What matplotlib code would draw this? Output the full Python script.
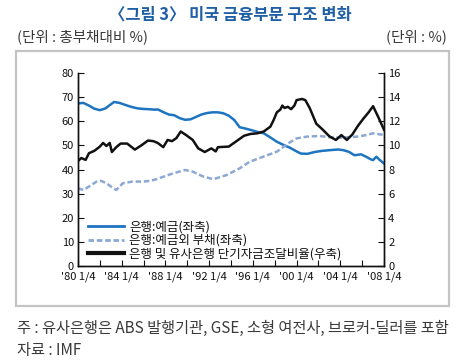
import matplotlib
matplotlib.use("Agg")
import matplotlib.pyplot as plt
from matplotlib.patches import Rectangle
from matplotlib.lines import Line2D

plt.rcParams['font.family'] = ['Noto Sans CJK KR', 'DejaVu Sans']

# --- data ---
dep_x = [1980.0, 1980.5, 1981.0, 1981.5, 1982.0, 1982.5, 1983.0, 1983.3, 1983.8, 1984.5,
         1985.0, 1985.5, 1986.0, 1986.5, 1987.0, 1987.3, 1987.8, 1988.3, 1988.8, 1989.3,
         1989.8, 1990.3, 1990.8, 1991.3, 1991.8, 1992.3, 1992.8, 1993.3, 1993.8, 1994.3,
         1994.8, 1995.2, 1995.8, 1996.5, 1997.0, 1997.6, 1998.2, 1998.8, 1999.4, 2000.0,
         2000.4, 2001.0, 2001.6, 2002.3, 2003.0, 2003.8, 2004.3, 2004.8, 2005.3, 2005.9,
         2006.4, 2006.8, 2007.0, 2007.3, 2007.6, 2008.0]
dep_y = [67.4, 67.6, 66.5, 65.2, 64.6, 65.3, 67.0, 68.0, 67.6, 66.5,
         65.8, 65.3, 65.1, 65.0, 64.8, 64.9, 63.8, 62.8, 62.5, 61.3,
         60.6, 60.8, 61.8, 62.8, 63.4, 63.7, 63.7, 63.3, 62.3, 60.5,
         57.5, 57.1, 56.4, 55.5, 55.0, 53.3, 51.5, 50.2, 49.0, 47.5,
         46.6, 46.5, 47.2, 47.7, 48.0, 48.3, 48.0, 47.3, 45.9, 46.3,
         45.2, 44.2, 43.9, 45.3, 44.0, 42.5]

nondep_x = [1980.0, 1980.5, 1981.2, 1981.7, 1982.1, 1982.6, 1983.0, 1983.5, 1984.1, 1985.0,
            1986.0, 1986.6, 1987.2, 1987.8, 1988.7, 1989.8, 1990.5, 1991.5, 1992.4, 1993.6,
            1994.8, 1995.7, 1996.95, 1998.2, 1999.4, 2000.0, 2000.9, 2002.1, 2003.0, 2004.0,
            2005.5, 2006.3, 2007.0, 2008.0]
nondep_y = [32.2, 31.5, 33.5, 35.0, 35.3, 34.3, 33.0, 31.5, 34.3, 35.0,
            35.0, 35.3, 36.0, 37.0, 38.4, 39.8, 39.1, 37.0, 36.0, 37.7,
            40.5, 43.2, 45.3, 47.4, 51.3, 52.9, 53.6, 53.9, 53.4, 53.2,
            53.6, 54.2, 55.0, 54.3]

st_x = [1980.0, 1980.3, 1980.7, 1981.0, 1981.5, 1982.0, 1982.3, 1982.6, 1982.9, 1983.1,
        1983.5, 1983.9, 1984.5, 1985.2, 1985.8, 1986.4, 1986.9, 1987.3, 1987.8, 1988.2,
        1988.6, 1989.0, 1989.4, 1989.9, 1990.5, 1991.0, 1991.6, 1992.2, 1992.6, 1992.8,
        1993.8, 1994.5, 1995.2, 1995.8, 1996.4, 1997.0, 1997.6, 1997.9, 1998.2, 1998.5,
        1998.7, 1998.9, 1999.2, 1999.5, 1999.8, 2000.0, 2000.5, 2000.8, 2001.2, 2001.8,
        2002.4, 2003.0, 2003.6, 2004.1, 2004.6, 2005.1, 2005.6, 2006.1, 2006.6, 2007.0,
        2007.5, 2008.0]
st_y = [8.7, 8.95, 8.8, 9.35, 9.55, 9.9, 10.2, 9.95, 10.2, 9.45,
        9.85, 10.15, 10.15, 9.65, 10.0, 10.4, 10.35, 10.2, 9.85, 10.45,
        10.35, 10.6, 11.15, 10.85, 10.45, 9.75, 9.45, 9.75, 9.5, 9.85,
        9.9, 10.35, 10.8, 10.95, 11.0, 11.15, 11.55, 12.1, 12.75, 12.95,
        13.3, 13.1, 13.2, 13.0, 13.3, 13.75, 13.85, 13.75, 13.1, 11.8,
        11.3, 10.75, 10.45, 10.85, 10.45, 10.9, 11.6, 12.2, 12.75, 13.25,
        12.3, 11.3]

labels = ['은행:예금(좌축)', '은행:예금외 부채(좌축)', '은행 및 유사은행 단기자금조달비율(우축)']
xtick_pos = list(range(1980, 2009, 2))
xtick_lbl = ["'%02d 1/4" % (y % 100) if (y - 1980) % 4 == 0 else '' for y in xtick_pos]
left_ticks = list(range(0, 81, 10))
right_ticks = list(range(0, 17, 2))

title = '〈그림 3〉 미국 금융부문 구조 변화'
unit_left = '(단위 : 총부채대비 %)'
unit_right = '(단위 : %)'
note = '주 : 유사은행은 ABS 발행기관, GSE, 소형 여전사, 브로커-딜러를 포함'
source = '자료 : IMF'

# --- figure ---
W, H = 465, 364
fig = plt.figure(figsize=(W / 100, H / 100), dpi=100)

# frame box
fig.add_artist(Rectangle((16 / W, 1 - 306 / H), (449 - 16) / W, (306 - 51) / H,
                         transform=fig.transFigure, fill=False, ec='#c4c4c4', lw=1.6))

fig.text(0.495, 1 - 14 / H, title, ha='center', va='center', fontsize=11.8,
         fontweight='bold', color='#1f5fa6')
fig.text(17 / W, 1 - 37 / H, unit_left, ha='left', va='center', fontsize=10.5, color='#3a3a3a')
fig.text(447 / W, 1 - 37 / H, unit_right, ha='right', va='center', fontsize=10.5, color='#3a3a3a')
fig.text(17 / W, 1 - 328 / H, note, ha='left', va='center', fontsize=11.0, color='#3a3a3a')
fig.text(17 / W, 1 - 351 / H, source, ha='left', va='center', fontsize=11.0, color='#3a3a3a')

ax = fig.add_axes([78 / W, 1 - 266 / H, (384 - 78) / W, (266 - 73) / H])
ax2 = ax.twinx()

blue = '#1d74c0'
lblue = '#8ca8d4'
l1, = ax.plot(dep_x, dep_y, color=blue, lw=1.8)
l2, = ax.plot(nondep_x, nondep_y, color=lblue, lw=1.8, dashes=(2.2, 1.1))
l3, = ax2.plot(st_x, st_y, color='#111111', lw=1.8)

ax.set_xlim(1980, 2008)
ax.set_ylim(0, 80)
ax2.set_ylim(0, 16)
ax.set_yticks(left_ticks)
ax2.set_yticks(right_ticks)
ax.set_xticks(xtick_pos)
ax.set_xticklabels(xtick_lbl)

for a in (ax, ax2):
    a.spines['top'].set_visible(False)
    for s in a.spines.values():
        s.set_linewidth(1.0)
        s.set_color('#111111')
ax.tick_params(axis='both', direction='in', length=4, width=0.8, labelsize=8, pad=3,
               colors='#111111')
ax2.tick_params(axis='y', direction='in', length=4, width=0.8, labelsize=8, pad=3,
                colors='#111111')
ax.tick_params(axis='x', pad=4)

h1 = Line2D([], [], color=blue, lw=2.0)
h2 = Line2D([], [], color=lblue, lw=2.0, dashes=(2, 1))
h3 = Line2D([], [], color='#111111', lw=3.0)
leg = ax.legend([h1, h2, h3], labels, loc='lower left', bbox_to_anchor=(0.033, 0.03),
                frameon=False, fontsize=9, handlelength=2.9, handletextpad=0.4,
                labelspacing=0.02, borderpad=0, borderaxespad=0)
for t in leg.get_texts():
    t.set_color('#111111')

fig.savefig('out.png', dpi=100)
